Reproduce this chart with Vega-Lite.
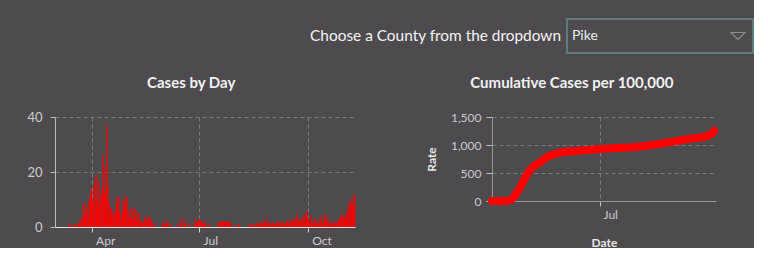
{
  "$schema": "https://vega.github.io/schema/vega-lite/v6.json",
  "background": "#4d4b4e",
  "padding": {"left": 26, "top": 18, "right": 0, "bottom": 0},
  "config": {
    "view": {"stroke": null},
    "font": "Lato",
    "title": {"color": "#f2f2f2", "fontSize": 15, "fontWeight": "bold", "font": "Lato", "anchor": "middle", "frame": "bounds", "offset": 20},
    "axis": {
      "labelColor": "#cccccc", "labelFont": "Lato", "labelFontSize": 12,
      "titleColor": "#e8e8e8", "titleFont": "Lato", "titleFontSize": 12, "titleFontWeight": "bold",
      "gridColor": "#7a7a7a", "gridDash": [4, 3], "gridWidth": 1,
      "tickColor": "#bdbdbd", "domainColor": "#bdbdbd"
    },
    "bar": {"binSpacing": 0}
  },
  "datasets": {
    "daily": [
      {"date": "2020-03-12", "cases": 1}, {"date": "2020-03-13", "cases": 0}, {"date": "2020-03-14", "cases": 1}, {"date": "2020-03-15", "cases": 0},
      {"date": "2020-03-16", "cases": 1}, {"date": "2020-03-17", "cases": 1}, {"date": "2020-03-18", "cases": 0}, {"date": "2020-03-19", "cases": 1},
      {"date": "2020-03-20", "cases": 2}, {"date": "2020-03-21", "cases": 1}, {"date": "2020-03-22", "cases": 3}, {"date": "2020-03-23", "cases": 2},
      {"date": "2020-03-24", "cases": 8}, {"date": "2020-03-25", "cases": 5}, {"date": "2020-03-26", "cases": 9}, {"date": "2020-03-27", "cases": 7},
      {"date": "2020-03-28", "cases": 4}, {"date": "2020-03-29", "cases": 10}, {"date": "2020-03-30", "cases": 12}, {"date": "2020-03-31", "cases": 14},
      {"date": "2020-04-01", "cases": 9}, {"date": "2020-04-02", "cases": 15}, {"date": "2020-04-03", "cases": 18}, {"date": "2020-04-04", "cases": 10},
      {"date": "2020-04-05", "cases": 19}, {"date": "2020-04-06", "cases": 16}, {"date": "2020-04-07", "cases": 8}, {"date": "2020-04-08", "cases": 12},
      {"date": "2020-04-09", "cases": 14}, {"date": "2020-04-10", "cases": 26}, {"date": "2020-04-11", "cases": 12}, {"date": "2020-04-12", "cases": 22},
      {"date": "2020-04-13", "cases": 37}, {"date": "2020-04-14", "cases": 15}, {"date": "2020-04-15", "cases": 9}, {"date": "2020-04-16", "cases": 6},
      {"date": "2020-04-17", "cases": 7}, {"date": "2020-04-18", "cases": 5}, {"date": "2020-04-19", "cases": 4}, {"date": "2020-04-20", "cases": 6},
      {"date": "2020-04-21", "cases": 11}, {"date": "2020-04-22", "cases": 9}, {"date": "2020-04-23", "cases": 11}, {"date": "2020-04-24", "cases": 5},
      {"date": "2020-04-25", "cases": 3}, {"date": "2020-04-26", "cases": 6}, {"date": "2020-04-27", "cases": 10}, {"date": "2020-04-28", "cases": 11},
      {"date": "2020-04-29", "cases": 8}, {"date": "2020-04-30", "cases": 11},
      {"date": "2020-05-01", "cases": 6}, {"date": "2020-05-02", "cases": 4}, {"date": "2020-05-03", "cases": 7}, {"date": "2020-05-04", "cases": 3},
      {"date": "2020-05-05", "cases": 6}, {"date": "2020-05-06", "cases": 7}, {"date": "2020-05-07", "cases": 4}, {"date": "2020-05-08", "cases": 6},
      {"date": "2020-05-09", "cases": 2}, {"date": "2020-05-10", "cases": 5}, {"date": "2020-05-11", "cases": 3}, {"date": "2020-05-12", "cases": 2},
      {"date": "2020-05-13", "cases": 1}, {"date": "2020-05-14", "cases": 2}, {"date": "2020-05-15", "cases": 3}, {"date": "2020-05-16", "cases": 4},
      {"date": "2020-05-17", "cases": 2}, {"date": "2020-05-18", "cases": 3}, {"date": "2020-05-19", "cases": 4}, {"date": "2020-05-20", "cases": 2},
      {"date": "2020-05-21", "cases": 3}, {"date": "2020-05-22", "cases": 1}, {"date": "2020-05-23", "cases": 0}, {"date": "2020-05-24", "cases": 1},
      {"date": "2020-05-25", "cases": 0}, {"date": "2020-05-26", "cases": 0}, {"date": "2020-05-27", "cases": 0}, {"date": "2020-05-28", "cases": 0},
      {"date": "2020-05-29", "cases": 0}, {"date": "2020-05-30", "cases": 1}, {"date": "2020-05-31", "cases": 2},
      {"date": "2020-06-01", "cases": 1}, {"date": "2020-06-02", "cases": 2}, {"date": "2020-06-03", "cases": 1}, {"date": "2020-06-04", "cases": 2},
      {"date": "2020-06-05", "cases": 0}, {"date": "2020-06-06", "cases": 1}, {"date": "2020-06-07", "cases": 0}, {"date": "2020-06-08", "cases": 0},
      {"date": "2020-06-09", "cases": 0}, {"date": "2020-06-10", "cases": 0}, {"date": "2020-06-11", "cases": 0}, {"date": "2020-06-12", "cases": 1},
      {"date": "2020-06-13", "cases": 0}, {"date": "2020-06-14", "cases": 3}, {"date": "2020-06-15", "cases": 1}, {"date": "2020-06-16", "cases": 0},
      {"date": "2020-06-17", "cases": 3}, {"date": "2020-06-18", "cases": 1}, {"date": "2020-06-19", "cases": 2}, {"date": "2020-06-20", "cases": 0},
      {"date": "2020-06-21", "cases": 1}, {"date": "2020-06-22", "cases": 0}, {"date": "2020-06-23", "cases": 0}, {"date": "2020-06-24", "cases": 0},
      {"date": "2020-06-25", "cases": 0}, {"date": "2020-06-26", "cases": 1}, {"date": "2020-06-27", "cases": 3}, {"date": "2020-06-28", "cases": 2},
      {"date": "2020-06-29", "cases": 2}, {"date": "2020-06-30", "cases": 3},
      {"date": "2020-07-01", "cases": 2}, {"date": "2020-07-02", "cases": 2}, {"date": "2020-07-03", "cases": 1}, {"date": "2020-07-04", "cases": 2},
      {"date": "2020-07-05", "cases": 2}, {"date": "2020-07-06", "cases": 1}, {"date": "2020-07-07", "cases": 0}, {"date": "2020-07-08", "cases": 1},
      {"date": "2020-07-09", "cases": 0}, {"date": "2020-07-10", "cases": 0}, {"date": "2020-07-11", "cases": 0}, {"date": "2020-07-12", "cases": 0},
      {"date": "2020-07-13", "cases": 0}, {"date": "2020-07-14", "cases": 0}, {"date": "2020-07-15", "cases": 0}, {"date": "2020-07-16", "cases": 1},
      {"date": "2020-07-17", "cases": 2}, {"date": "2020-07-18", "cases": 2}, {"date": "2020-07-19", "cases": 2}, {"date": "2020-07-20", "cases": 2},
      {"date": "2020-07-21", "cases": 2}, {"date": "2020-07-22", "cases": 2}, {"date": "2020-07-23", "cases": 2}, {"date": "2020-07-24", "cases": 2},
      {"date": "2020-07-25", "cases": 2}, {"date": "2020-07-26", "cases": 2}, {"date": "2020-07-27", "cases": 1}, {"date": "2020-07-28", "cases": 0},
      {"date": "2020-07-29", "cases": 0}, {"date": "2020-07-30", "cases": 0}, {"date": "2020-07-31", "cases": 1},
      {"date": "2020-08-01", "cases": 0}, {"date": "2020-08-02", "cases": 1}, {"date": "2020-08-03", "cases": 1}, {"date": "2020-08-04", "cases": 0},
      {"date": "2020-08-05", "cases": 0}, {"date": "2020-08-06", "cases": 0}, {"date": "2020-08-07", "cases": 0}, {"date": "2020-08-08", "cases": 0},
      {"date": "2020-08-09", "cases": 0}, {"date": "2020-08-10", "cases": 0}, {"date": "2020-08-11", "cases": 1}, {"date": "2020-08-12", "cases": 0},
      {"date": "2020-08-13", "cases": 1}, {"date": "2020-08-14", "cases": 1}, {"date": "2020-08-15", "cases": 1}, {"date": "2020-08-16", "cases": 0},
      {"date": "2020-08-17", "cases": 1}, {"date": "2020-08-18", "cases": 1}, {"date": "2020-08-19", "cases": 2}, {"date": "2020-08-20", "cases": 1},
      {"date": "2020-08-21", "cases": 1}, {"date": "2020-08-22", "cases": 2}, {"date": "2020-08-23", "cases": 1}, {"date": "2020-08-24", "cases": 2},
      {"date": "2020-08-25", "cases": 2}, {"date": "2020-08-26", "cases": 1}, {"date": "2020-08-27", "cases": 4}, {"date": "2020-08-28", "cases": 1},
      {"date": "2020-08-29", "cases": 2}, {"date": "2020-08-30", "cases": 1}, {"date": "2020-08-31", "cases": 1},
      {"date": "2020-09-01", "cases": 2}, {"date": "2020-09-02", "cases": 1}, {"date": "2020-09-03", "cases": 1}, {"date": "2020-09-04", "cases": 2},
      {"date": "2020-09-05", "cases": 1}, {"date": "2020-09-06", "cases": 2}, {"date": "2020-09-07", "cases": 1}, {"date": "2020-09-08", "cases": 2},
      {"date": "2020-09-09", "cases": 1}, {"date": "2020-09-10", "cases": 2}, {"date": "2020-09-11", "cases": 1}, {"date": "2020-09-12", "cases": 2},
      {"date": "2020-09-13", "cases": 2}, {"date": "2020-09-14", "cases": 1}, {"date": "2020-09-15", "cases": 3}, {"date": "2020-09-16", "cases": 2},
      {"date": "2020-09-17", "cases": 2}, {"date": "2020-09-18", "cases": 3}, {"date": "2020-09-19", "cases": 2}, {"date": "2020-09-20", "cases": 3},
      {"date": "2020-09-21", "cases": 5}, {"date": "2020-09-22", "cases": 2}, {"date": "2020-09-23", "cases": 3}, {"date": "2020-09-24", "cases": 2},
      {"date": "2020-09-25", "cases": 3}, {"date": "2020-09-26", "cases": 4}, {"date": "2020-09-27", "cases": 2}, {"date": "2020-09-28", "cases": 5},
      {"date": "2020-09-29", "cases": 6}, {"date": "2020-09-30", "cases": 4},
      {"date": "2020-10-01", "cases": 3}, {"date": "2020-10-02", "cases": 2}, {"date": "2020-10-03", "cases": 4}, {"date": "2020-10-04", "cases": 1},
      {"date": "2020-10-05", "cases": 2}, {"date": "2020-10-06", "cases": 3}, {"date": "2020-10-07", "cases": 1}, {"date": "2020-10-08", "cases": 2},
      {"date": "2020-10-09", "cases": 3}, {"date": "2020-10-10", "cases": 1}, {"date": "2020-10-11", "cases": 4}, {"date": "2020-10-12", "cases": 2},
      {"date": "2020-10-13", "cases": 1}, {"date": "2020-10-14", "cases": 3}, {"date": "2020-10-15", "cases": 5}, {"date": "2020-10-16", "cases": 2},
      {"date": "2020-10-17", "cases": 4}, {"date": "2020-10-18", "cases": 1}, {"date": "2020-10-19", "cases": 2}, {"date": "2020-10-20", "cases": 1},
      {"date": "2020-10-21", "cases": 2}, {"date": "2020-10-22", "cases": 1}, {"date": "2020-10-23", "cases": 2}, {"date": "2020-10-24", "cases": 1},
      {"date": "2020-10-25", "cases": 2}, {"date": "2020-10-26", "cases": 2}, {"date": "2020-10-27", "cases": 3}, {"date": "2020-10-28", "cases": 4},
      {"date": "2020-10-29", "cases": 5}, {"date": "2020-10-30", "cases": 4}, {"date": "2020-10-31", "cases": 3},
      {"date": "2020-11-01", "cases": 4}, {"date": "2020-11-02", "cases": 5}, {"date": "2020-11-03", "cases": 7}, {"date": "2020-11-04", "cases": 9},
      {"date": "2020-11-05", "cases": 8}, {"date": "2020-11-06", "cases": 10}, {"date": "2020-11-07", "cases": 8}, {"date": "2020-11-08", "cases": 12},
      {"date": "2020-11-09", "cases": 11}
    ],
    "cumulative": [
      {"date": "2020-03-01", "rate": 0}, {"date": "2020-03-08", "rate": 0}, {"date": "2020-03-15", "rate": 0},
      {"date": "2020-03-21", "rate": 10}, {"date": "2020-03-26", "rate": 80}, {"date": "2020-03-30", "rate": 170},
      {"date": "2020-04-03", "rate": 280}, {"date": "2020-04-07", "rate": 400}, {"date": "2020-04-10", "rate": 490},
      {"date": "2020-04-14", "rate": 570}, {"date": "2020-04-19", "rate": 640}, {"date": "2020-04-25", "rate": 700},
      {"date": "2020-05-03", "rate": 790}, {"date": "2020-05-10", "rate": 835}, {"date": "2020-05-18", "rate": 865},
      {"date": "2020-05-28", "rate": 885}, {"date": "2020-06-09", "rate": 900}, {"date": "2020-06-20", "rate": 915},
      {"date": "2020-07-02", "rate": 930}, {"date": "2020-07-20", "rate": 945}, {"date": "2020-08-08", "rate": 960},
      {"date": "2020-08-25", "rate": 990}, {"date": "2020-09-10", "rate": 1030}, {"date": "2020-09-25", "rate": 1070},
      {"date": "2020-10-08", "rate": 1105}, {"date": "2020-10-20", "rate": 1130}, {"date": "2020-10-28", "rate": 1150},
      {"date": "2020-11-02", "rate": 1180}, {"date": "2020-11-05", "rate": 1215}, {"date": "2020-11-07", "rate": 1255}
    ]
  },
  "spacing": 22,
  "vconcat": [
    {
      "spacing": 5,
      "hconcat": [
        {
          "width": 506,
          "height": 34,
          "data": {"values": [{"label": "Choose a County from the dropdown"}]},
          "mark": {"type": "text", "align": "right", "baseline": "middle", "fontSize": 15.4, "color": "#f4f4f4", "font": "Lato"},
          "encoding": {
            "x": {"datum": 1, "type": "quantitative", "scale": {"domain": [0, 1]}, "axis": null},
            "y": {"datum": 0.5, "type": "quantitative", "scale": {"domain": [0, 1]}, "axis": null},
            "text": {"field": "label"}
          }
        },
        {
          "width": 186,
          "height": 34,
          "view": {"stroke": "#5f7c7b", "strokeWidth": 2},
          "layer": [
            {
              "data": {"values": [{"label": "Pike"}]},
              "mark": {"type": "text", "align": "left", "baseline": "middle", "dx": 5, "fontSize": 14, "color": "#eeeeee", "font": "Lato"},
              "encoding": {
                "x": {"datum": 0, "type": "quantitative", "scale": {"domain": [0, 1]}, "axis": null},
                "y": {"datum": 0.5, "type": "quantitative", "scale": {"domain": [0, 1]}, "axis": null},
                "text": {"field": "label"}
              }
            },
            {
              "data": {"values": [{"icon": "open"}]},
              "mark": {"type": "point", "shape": "M-1,-0.5L1,-0.5L0,0.5Z", "size": 196, "filled": false, "stroke": "#a8a8a8", "strokeWidth": 1.2, "xOffset": -15},
              "encoding": {
                "x": {"datum": 1, "type": "quantitative", "scale": {"domain": [0, 1]}, "axis": null},
                "y": {"datum": 0.5, "type": "quantitative", "scale": {"domain": [0, 1]}, "axis": null}
              }
            }
          ]
        }
      ]
    },
    {
      "spacing": 69,
      "hconcat": [
        {
          "title": "Cases by Day",
          "width": 300,
          "height": 110,
          "data": {"name": "daily"},
          "mark": {"type": "bar", "color": "#ff0000"},
          "encoding": {
            "x": {
              "field": "date", "type": "temporal", "timeUnit": "utcyearmonthdate",
              "scale": {"type": "utc", "domain": ["2020-03-01", "2020-11-10"]},
              "axis": {
                "title": null, "grid": true,
                "values": [{"year": 2020, "month": 4, "date": 1, "utc": true}, {"year": 2020, "month": 7, "date": 1, "utc": true}, {"year": 2020, "month": 10, "date": 1, "utc": true}],
                "labelExpr": "['Jan','Feb','Mar','Apr','May','Jun','Jul','Aug','Sep','Oct','Nov','Dec'][utcmonth(datum.value)]",
                "labelAlign": "left", "labelOffset": 4,
                "tickSize": 5, "labelPadding": 3, "domainColor": "#e6e6e6", "tickColor": "#cfcfcf", "labelFlush": false
              }
            },
            "y": {
              "field": "cases", "type": "quantitative",
              "scale": {"domain": [0, 40]},
              "axis": {"title": null, "values": [0, 20, 40], "tickSize": 5, "labelPadding": 8, "labelFontSize": 13}
            }
          }
        },
        {
          "title": "Cumulative Cases per 100,000",
          "width": 224,
          "height": 84,
          "data": {"name": "cumulative"},
          "mark": {"type": "line", "color": "#ff0000", "strokeWidth": 8, "strokeCap": "round", "strokeJoin": "round", "interpolate": "monotone"},
          "encoding": {
            "x": {
              "field": "date", "type": "temporal",
              "scale": {"type": "utc", "domain": ["2020-03-01", "2020-11-09"]},
              "axis": {
                "title": "Date", "grid": true,
                "values": [{"year": 2020, "month": 7, "date": 1, "utc": true}],
                "labelExpr": "['Jan','Feb','Mar','Apr','May','Jun','Jul','Aug','Sep','Oct','Nov','Dec'][utcmonth(datum.value)]",
                "labelAlign": "left", "labelOffset": 3,
                "tickSize": 5, "labelPadding": 3, "titlePadding": 17, "domainColor": "#999999", "labelFlush": false
              }
            },
            "y": {
              "field": "rate", "type": "quantitative",
              "scale": {"domain": [0, 1500]},
              "axis": {
                "title": "Rate", "values": [0, 500, 1000, 1500],
                "labelExpr": "datum.value >= 1000 ? floor(datum.value / 1000) + ',' + (datum.value % 1000 == 0 ? '000' : datum.value % 1000) : '' + datum.value",
                "tickSize": 6, "labelPadding": 5, "titlePadding": 12, "domainColor": "#999999"
              }
            }
          }
        }
      ]
    }
  ]
}
